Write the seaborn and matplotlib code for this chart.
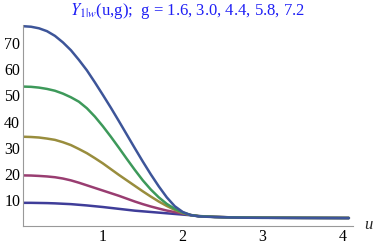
import matplotlib
matplotlib.use("Agg")
import matplotlib.pyplot as plt
import matplotlib.ticker as mticker
import pandas as pd
import seaborn as sns

# sample points along u
u = [0.0, 0.1, 0.2, 0.3, 0.4, 0.5, 0.6, 0.7, 0.8, 0.9, 1.0, 1.1, 1.2, 1.3, 1.4,
     1.5, 1.6, 1.7, 1.8, 1.9, 2.0, 2.1, 2.2, 2.4, 2.6, 2.8, 3.0, 3.5, 4.08]

g_values = ["1.6", "3.0", "4.4", "5.8", "7.2"]
y_g16 = [8.9, 8.9, 8.85, 8.8, 8.7, 8.55, 8.4, 8.15, 7.9, 7.6, 7.3, 6.95, 6.6, 6.25, 5.9,
         5.65, 5.4, 5.15, 4.9, 4.65, 4.4, 4.15, 3.85, 3.55, 3.35, 3.25, 3.2, 3.15, 3.1]
y_g30 = [19.4, 19.35, 19.2, 19.0, 18.7, 18.2, 17.5, 16.6, 15.6, 14.6, 13.6, 12.6, 11.6, 10.5, 9.4,
         8.4, 7.5, 6.7, 5.95, 5.35, 4.8, 4.25, 3.8, 3.5, 3.35, 3.25, 3.2, 3.15, 3.1]
y_g44 = [34.2, 34.1, 33.9, 33.5, 33.0, 32.1, 31.0, 29.5, 27.9, 26.0, 24.0, 21.8, 19.6, 17.5, 15.4,
         13.3, 11.3, 9.4, 7.7, 6.2, 5.0, 4.2, 3.8, 3.5, 3.35, 3.25, 3.2, 3.15, 3.1]
y_g58 = [53.4, 53.3, 53.0, 52.5, 51.8, 50.7, 49.3, 47.6, 45.1, 41.9, 38.2, 34.2, 30.0, 25.7, 21.5,
         17.5, 14.0, 11.0, 8.5, 6.6, 5.2, 4.25, 3.8, 3.5, 3.35, 3.25, 3.2, 3.15, 3.1]
y_g72 = [76.5, 76.3, 75.7, 74.6, 72.8, 70.3, 67.3, 63.6, 59.6, 55.0, 50.2, 45.3, 40.2, 35.0, 29.8,
         24.7, 19.8, 15.2, 11.0, 7.6, 5.4, 4.2, 3.7, 3.45, 3.3, 3.2, 3.15, 3.1, 3.05]

colors = ["#3f3d99", "#993d71", "#998d3d", "#3d995a", "#3d5599"]

df = pd.concat(
    [
        pd.DataFrame({"u": u, "Y": ys, "g": g})
        for g, ys in zip(g_values, [y_g16, y_g30, y_g44, y_g58, y_g72])
    ],
    ignore_index=True,
)

sns.set_style("white")
plt.rcParams["font.family"] = ["Liberation Serif", "DejaVu Serif"]
plt.rcParams["mathtext.fontset"] = "stix"

fig = plt.figure(figsize=(3.74, 2.49), dpi=100)
ax = fig.add_axes([0.0615, 0.092, 0.882, 0.808])

sns.lineplot(data=df, x="u", y="Y", hue="g", palette=colors, linewidth=1.8,
             legend=False, ax=ax)

ax.set_xlim(0, 4.13)
ax.set_ylim(0, 77)
ax.set_xlabel("")
ax.set_ylabel("")

for side in ["top", "right"]:
    ax.spines[side].set_visible(False)
for side in ["left", "bottom"]:
    ax.spines[side].set_color("#999999")
    ax.spines[side].set_linewidth(0.8)

ax.xaxis.set_major_locator(mticker.FixedLocator([1, 2, 3, 4]))
ax.xaxis.set_minor_locator(mticker.MultipleLocator(0.2))
ax.yaxis.set_major_locator(mticker.FixedLocator([10, 20, 30, 40, 50, 60, 70]))
ax.yaxis.set_minor_locator(mticker.MultipleLocator(2))
ax.tick_params(which="both", direction="in", colors="#999999", labelcolor="black",
               labelsize=11.5, width=0.7)
ax.tick_params(which="major", length=4, pad=2)
ax.tick_params(which="minor", length=2)

ax.annotate("u", xy=(1, 0), xycoords="axes fraction", xytext=(8, 1),
            textcoords="offset points", fontsize=12, style="italic",
            ha="left", va="center")

fig.text(0.5, 1 - 11 / 249, r"$Y_{1|w}$(u,g);  g = 1.6, 3.0, 4.4, 5.8, 7.2",
         color="#1f1ff5", fontsize=12, ha="center", va="center")

fig.savefig("out.png", dpi=100)
